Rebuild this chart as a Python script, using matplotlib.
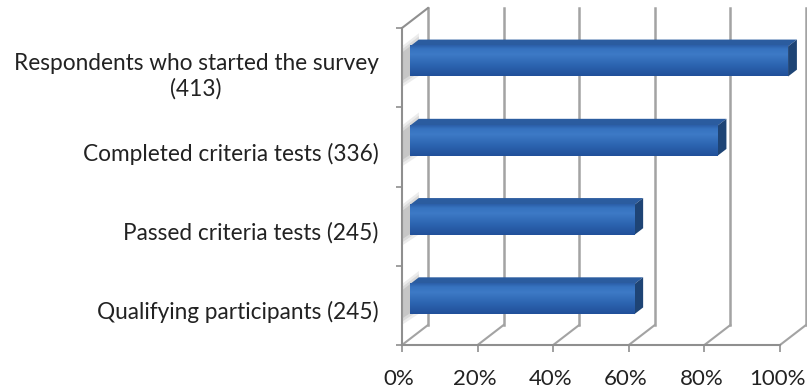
import numpy as np
import matplotlib
matplotlib.use("Agg")
import matplotlib.pyplot as plt
from matplotlib.colors import LinearSegmentedColormap
from matplotlib.patches import Polygon
from matplotlib.transforms import ScaledTranslation

# survey funnel
categories = [
    "Respondents who started the survey\n(413)",
    "Completed criteria tests (336)",
    "Passed criteria tests (245)",
    "Qualifying participants (245)",
]
counts = [413, 336, 245, 245]
shares = [100.0 * c / counts[0] for c in counts]
x_ticks = [0, 20, 40, 60, 80, 100]
x_tick_labels = ["0%", "20%", "40%", "60%", "80%", "100%"]

plt.rcParams["font.family"] = ["Lato", "DejaVu Sans"]

DPI = 100
fig = plt.figure(figsize=(8.07, 3.91), dpi=DPI)
fig.patch.set_facecolor("white")

# front plane of the 3d box
W, H = 807, 391
left_px, right_px, top_px, bot_px = 402, 780, 28, 345
ax = fig.add_axes([left_px / W, (H - bot_px) / H,
                   (right_px - left_px) / W, (bot_px - top_px) / H])
ax.set_xlim(0, 100)
ax.set_ylim(-0.5, len(categories) - 0.5)

# depth vector of the box in pixels, turned into data units
DEPTH_PX = (26.0, 20.0)
px_x = 100.0 / (right_px - left_px)
px_y = len(categories) / (bot_px - top_px)


def depth(d):
    return DEPTH_PX[0] * d * px_x, DEPTH_PX[1] * d * px_y


grid_col = "#a3a3a3"
edge_col = "#8f8f8f"
y0, y1 = -0.5, len(categories) - 0.5
bx, by = depth(1.0)

# back wall gridlines and floor diagonals
for xt in x_ticks:
    ax.plot([xt + bx, xt + bx], [y0 + by, y1 + by], color=grid_col, lw=1.8,
            clip_on=False, zorder=1)
    ax.plot([xt, xt + bx], [y0, y0 + by], color=grid_col, lw=1.5,
            clip_on=False, zorder=1)
# left wall
ax.plot([0, 0], [y0, y1], color=edge_col, lw=1.5, clip_on=False, zorder=1)
ax.plot([0, bx], [y1, y1 + by], color=edge_col, lw=1.5, clip_on=False, zorder=1)
ax.plot([0, 100], [y0, y0], color=edge_col, lw=1.5, clip_on=False, zorder=1)

# bars
d_front, d_back = 0.31, 0.65
bar_h = 0.38
fx, fy = depth(d_front)
kx, ky = depth(d_back)
front_cmap = LinearSegmentedColormap.from_list(
    "front", [(0.0, "#21509a"), (0.35, "#2c64b0"), (0.7, "#3d7ac6"),
              (0.88, "#3773c0"), (1.0, "#2b5fa8")])
grad = np.linspace(0, 1, 64).reshape(-1, 1)

ypos = [len(categories) - 1 - i for i in range(len(categories))]
for yc, v in zip(ypos, shares):
    yb, yt = yc - bar_h / 2, yc + bar_h / 2
    # soft shadow on the side wall
    for k, a in enumerate([0.18, 0.22, 0.3]):
        s = 0.04 * (2 - k)
        ax.add_patch(Polygon([(0, yb + fy * 0.3 - s), (0, yt + s),
                              (kx, yt + ky + s), (kx, yb + ky - s)],
                             closed=True, facecolor="#9a9a9a", edgecolor="none",
                             alpha=a, clip_on=False, zorder=2))
    # top face
    ax.add_patch(Polygon([(fx, yt + fy), (v + fx, yt + fy), (v + kx, yt + ky), (kx, yt + ky)],
                         closed=True, facecolor="#2b5c9f", edgecolor="none",
                         clip_on=False, zorder=3))
    # end face
    ax.add_patch(Polygon([(v + fx, yb + fy), (v + fx, yt + fy), (v + kx, yt + ky), (v + kx, yb + ky)],
                         closed=True, facecolor="#1e4475", edgecolor="none",
                         clip_on=False, zorder=3))
    # front face
    ax.imshow(grad, cmap=front_cmap, origin="lower", aspect="auto",
              extent=(fx, v + fx, yb + fy, yt + fy), interpolation="bilinear",
              clip_on=False, zorder=4)

ax.set_xlim(0, 100)
ax.set_ylim(y0, y1)

# axes ticks and labels
for s in ax.spines.values():
    s.set_visible(False)
ax.set_facecolor("none")
ax.set_xticks(x_ticks)
ax.set_xticklabels(x_tick_labels)
ax.tick_params(axis="x", length=5, width=1.2, color=edge_col, pad=12,
               labelsize=16, labelcolor="#222222")
xshift = ScaledTranslation(-3 / DPI, 0, fig.dpi_scale_trans)
for lbl in ax.get_xticklabels():
    lbl.set_transform(lbl.get_transform() + xshift)
ax.set_yticks(ypos)
ax.set_yticklabels(categories)
ax.set_yticks(np.arange(y0, y1 + 0.01, 1.0), minor=True)
ax.tick_params(axis="y", which="major", length=0, pad=17,
               labelsize=16.3, labelcolor="#222222")
ax.tick_params(axis="y", which="minor", length=4, width=1.2, color=edge_col)
shift = ScaledTranslation(0, -5 / DPI, fig.dpi_scale_trans)
for lbl in ax.get_yticklabels():
    lbl.set_multialignment("center")
    lbl.set_linespacing(1.2)
    lbl.set_transform(lbl.get_transform() + shift)

fig.savefig("out.png", dpi=DPI, facecolor="white")
